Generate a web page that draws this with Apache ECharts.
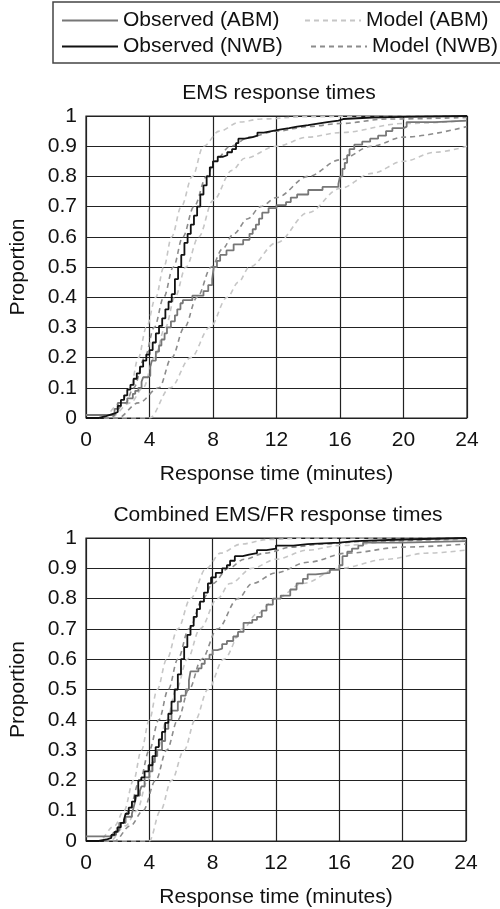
<!DOCTYPE html>
<html>
<head>
<meta charset="utf-8">
<script src="https://cdn.jsdelivr.net/npm/echarts@6/dist/echarts.min.js"></script>
<style>
  html, body { margin: 0; padding: 0; background: #fff; }
  #chart { width: 500px; height: 909px; }
</style>
</head>
<body>
<div id="chart"></div>
<script>
// x ticks / y ticks
const xTicks = [0, 4, 8, 12, 16, 20, 24];
const yTicks = [0, 0.1, 0.2, 0.3, 0.4, 0.5, 0.6, 0.7, 0.8, 0.9, 1];

// ---- EMS response times (top) ----
// observed, step curves
const emsNwbT = [0, 0.8, 1.2, 1.5, 1.8, 2.0, 2.2, 2.4, 2.6, 2.8, 3.0, 3.2, 3.4, 3.6, 3.8, 4.0, 4.2, 4.4, 4.6, 4.8, 5.0, 5.2, 5.4, 5.6, 5.8, 6.0, 6.2, 6.4, 6.6, 6.8, 7.0, 7.2, 7.4, 7.6, 7.8, 8.0, 8.3, 8.6, 8.9, 9.2, 9.45, 9.6, 10.0, 10.5, 10.8, 11.2, 11.7, 12.2, 12.8, 13.3, 14.0, 14.6, 15.2, 15.9, 16.2, 18, 20, 24];
const emsNwbP = [0, 0.005, 0.01, 0.015, 0.02, 0.04, 0.06, 0.075, 0.094, 0.11, 0.13, 0.148, 0.17, 0.19, 0.21, 0.225, 0.25, 0.28, 0.305, 0.33, 0.36, 0.385, 0.41, 0.46, 0.5, 0.54, 0.58, 0.61, 0.64, 0.67, 0.7, 0.74, 0.77, 0.8, 0.83, 0.85, 0.865, 0.87, 0.88, 0.89, 0.91, 0.925, 0.93, 0.935, 0.945, 0.95, 0.955, 0.96, 0.965, 0.97, 0.975, 0.98, 0.985, 0.99, 0.995, 0.997, 1, 1];
const emsAbmT = [0, 1.6, 1.8, 2.0, 2.6, 2.95, 3.1, 3.3, 3.5, 3.6, 3.9, 4.05, 4.15, 4.4, 4.6, 4.75, 4.95, 5.1, 5.35, 5.6, 5.75, 5.95, 6.1, 6.7, 7.4, 7.7, 7.95, 8.05, 8.25, 8.45, 8.85, 9.3, 9.9, 10.3, 10.5, 10.7, 10.9, 11.1, 11.5, 12.0, 12.6, 12.9, 13.3, 14.0, 14.9, 15.9, 16.0, 16.15, 16.3, 16.45, 16.6, 16.9, 17.4, 17.9, 18.4, 18.9, 19.3, 20.0, 20.2, 22, 24];
const emsAbmP = [0.01, 0.01, 0.03, 0.05, 0.065, 0.08, 0.09, 0.1, 0.12, 0.135, 0.14, 0.17, 0.19, 0.22, 0.24, 0.26, 0.28, 0.3, 0.32, 0.34, 0.36, 0.38, 0.39, 0.405, 0.42, 0.44, 0.46, 0.5, 0.52, 0.54, 0.555, 0.575, 0.59, 0.61, 0.625, 0.64, 0.66, 0.68, 0.695, 0.705, 0.715, 0.73, 0.74, 0.755, 0.765, 0.775, 0.8, 0.825, 0.845, 0.87, 0.89, 0.905, 0.915, 0.925, 0.935, 0.95, 0.96, 0.965, 0.98, 0.985, 0.985];
// model curves
const emsModA1T = [0, 1.0, 2.2, 2.8, 3.3, 3.8, 4.4, 4.9, 5.4, 6.0, 6.7, 7.4, 8.4, 9.7, 11, 14, 24];
const emsModA1P = [0, 0, 0.05, 0.1, 0.2, 0.3, 0.4, 0.5, 0.6, 0.7, 0.8, 0.9, 0.95, 0.98, 0.99, 0.998, 1];
const emsModA2T = [0, 1.5, 2.8, 3.6, 4.3, 5.0, 5.6, 6.3, 7.1, 8.0, 9.2, 10.0, 12, 14, 16, 20, 24];
const emsModA2P = [0, 0, 0.05, 0.1, 0.2, 0.3, 0.4, 0.5, 0.6, 0.72, 0.82, 0.86, 0.9, 0.93, 0.945, 0.975, 0.985];
const emsModA3T = [0, 4.0, 5.3, 6.6, 7.8, 8.9, 9.6, 10.3, 12, 14, 16, 18, 20, 22, 24];
const emsModA3P = [0, 0, 0.1, 0.2, 0.3, 0.4, 0.45, 0.5, 0.58, 0.68, 0.76, 0.81, 0.85, 0.88, 0.9];
const emsModN1T = [0, 1.5, 2.5, 3.0, 3.7, 4.3, 4.9, 5.5, 6.1, 6.8, 7.6, 8.1, 9.1, 10.3, 12, 14, 16, 19, 24];
const emsModN1P = [0, 0, 0.05, 0.1, 0.2, 0.3, 0.4, 0.5, 0.6, 0.7, 0.8, 0.85, 0.9, 0.93, 0.95, 0.965, 0.975, 0.99, 0.995];
const emsModN2T = [0, 2.0, 3.3, 4.6, 5.4, 6.2, 7.0, 7.9, 8.6, 9.3, 10.2, 11.0, 12, 14, 16, 18, 20, 24];
const emsModN2P = [0, 0, 0.05, 0.1, 0.2, 0.3, 0.4, 0.5, 0.56, 0.61, 0.66, 0.7, 0.73, 0.8, 0.855, 0.9, 0.93, 0.965];

// ---- Combined EMS/FR response times (bottom) ----
const cmbNwbT = [0, 0.8, 1.3, 1.6, 1.8, 2.0, 2.2, 2.4, 2.5, 2.7, 2.9, 3.1, 3.3, 3.5, 3.7, 3.95, 4.2, 4.4, 4.6, 4.8, 5.0, 5.2, 5.4, 5.6, 5.8, 6.0, 6.2, 6.4, 6.6, 6.8, 7.0, 7.2, 7.45, 7.7, 7.9, 8.2, 8.6, 8.9, 9.1, 9.4, 9.9, 10.3, 10.8, 11.4, 12, 13.1, 14, 16, 17, 20, 24];
const cmbNwbP = [0, 0.005, 0.01, 0.02, 0.03, 0.045, 0.06, 0.07, 0.09, 0.11, 0.13, 0.15, 0.2, 0.21, 0.23, 0.25, 0.28, 0.31, 0.335, 0.36, 0.39, 0.42, 0.46, 0.5, 0.55, 0.6, 0.64, 0.68, 0.71, 0.74, 0.765, 0.79, 0.82, 0.85, 0.87, 0.885, 0.9, 0.91, 0.925, 0.94, 0.945, 0.95, 0.96, 0.965, 0.975, 0.98, 0.985, 0.99, 0.995, 1, 1];
const cmbAbmT = [0, 1.2, 1.5, 1.9, 2.1, 2.5, 2.9, 3.0, 3.1, 3.2, 3.4, 3.5, 3.7, 4.0, 4.2, 4.35, 4.5, 4.8, 5.0, 5.2, 5.4, 5.8, 6.0, 6.3, 6.5, 6.6, 7.1, 7.3, 7.5, 7.8, 8.0, 8.3, 8.6, 8.9, 9.3, 9.6, 9.95, 10.5, 10.8, 11.1, 11.4, 11.8, 12.3, 12.9, 13.3, 13.7, 14.0, 14.5, 15.4, 16.0, 16.2, 16.5, 16.8, 17.2, 17.5, 20, 24];
const cmbAbmP = [0.015, 0.015, 0.02, 0.035, 0.06, 0.08, 0.09, 0.11, 0.13, 0.15, 0.165, 0.18, 0.21, 0.23, 0.26, 0.28, 0.3, 0.33, 0.37, 0.4, 0.43, 0.46, 0.48, 0.5, 0.53, 0.56, 0.57, 0.585, 0.6, 0.615, 0.63, 0.635, 0.65, 0.66, 0.675, 0.69, 0.72, 0.73, 0.74, 0.76, 0.78, 0.8, 0.81, 0.83, 0.85, 0.865, 0.88, 0.885, 0.895, 0.91, 0.94, 0.955, 0.965, 0.975, 0.985, 0.99, 0.99];
const cmbModA1T = [0, 0.8, 1.8, 2.4, 3.0, 3.5, 4.0, 4.5, 5.1, 5.8, 6.6, 7.6, 8.5, 9.8, 11.5, 14, 24];
const cmbModA1P = [0, 0, 0.05, 0.1, 0.2, 0.3, 0.4, 0.5, 0.6, 0.7, 0.8, 0.9, 0.95, 0.98, 0.995, 1, 1];
const cmbModA2T = [0, 1.5, 2.5, 3.2, 3.9, 4.5, 5.1, 5.7, 6.4, 7.2, 8.3, 9.1, 10.5, 12, 14, 16, 20, 24];
const cmbModA2P = [0, 0, 0.05, 0.1, 0.2, 0.3, 0.4, 0.5, 0.6, 0.7, 0.8, 0.85, 0.9, 0.93, 0.96, 0.975, 0.99, 0.995];
const cmbModA3T = [0, 4.0, 4.7, 5.4, 6.2, 6.9, 7.7, 8.7, 9.9, 10.8, 12, 13.7, 16, 19, 21.5, 24];
const cmbModA3P = [0, 0, 0.1, 0.2, 0.3, 0.4, 0.5, 0.6, 0.7, 0.75, 0.8, 0.85, 0.9, 0.93, 0.95, 0.96];
const cmbModN1T = [0, 1.2, 2.2, 2.7, 3.4, 4.0, 4.6, 5.2, 5.8, 6.5, 7.4, 8.0, 9.0, 10, 11.3, 13, 15, 18, 24];
const cmbModN1P = [0, 0, 0.05, 0.1, 0.2, 0.3, 0.4, 0.5, 0.6, 0.7, 0.8, 0.85, 0.9, 0.93, 0.95, 0.97, 0.98, 0.99, 1];
const cmbModN2T = [0, 1.8, 2.8, 3.6, 4.4, 5.1, 5.8, 6.5, 7.3, 8.3, 9.6, 10.5, 12, 14, 16.5, 20, 24];
const cmbModN2P = [0, 0, 0.05, 0.1, 0.2, 0.3, 0.4, 0.5, 0.6, 0.7, 0.8, 0.85, 0.885, 0.92, 0.95, 0.97, 0.98];

const FONT = '"Liberation Sans", Arial, sans-serif';
const FS = 21;
const pairs = (xs, ys) => xs.map((x, i) => [x, ys[i]]);

function obsSeries(name, idx, xs, ys, color) {
    return {
        name, type: 'line', xAxisIndex: idx, yAxisIndex: idx, step: 'end',
        symbol: 'none', data: pairs(xs, ys), z: 5,
        lineStyle: { color, width: 1.8 }, itemStyle: { color }
    };
}
function modelSeries(name, idx, xs, ys, color) {
    return {
        name, type: 'line', xAxisIndex: idx, yAxisIndex: idx,
        smooth: 0.35, smoothMonotone: 'x', symbol: 'none', data: pairs(xs, ys), z: 3,
        lineStyle: { color, width: 1.6, type: [5, 4] }, itemStyle: { color }
    };
}

const LIGHT = '#c6c6c6', DARK = '#8c8c8c', OBS_ABM = '#777777', OBS_NWB = '#111111';

function xAx(idx) {
    return {
        type: 'value', gridIndex: idx, min: 0, max: 24, interval: 4,
        name: 'Response time (minutes)', nameLocation: 'middle', nameGap: 46,
        nameTextStyle: { fontSize: FS, color: '#111', fontFamily: FONT },
        axisLine: { show: false }, axisTick: { show: false },
        axisLabel: { fontSize: FS, color: '#111', fontFamily: FONT, margin: 12 },
        splitLine: { show: true, lineStyle: { color: '#222', width: 1.2 } }
    };
}
function yAx(idx) {
    return {
        type: 'value', gridIndex: idx, min: 0, max: 1, interval: 0.1,
        name: 'Proportion', nameLocation: 'middle', nameGap: 57, nameRotate: 90,
        nameTextStyle: { fontSize: FS, color: '#111', fontFamily: FONT },
        axisLine: { show: false }, axisTick: { show: false },
        axisLabel: { fontSize: FS, color: '#111', fontFamily: FONT, margin: 9 },
        splitLine: { show: true, lineStyle: { color: '#222', width: 1.2 } }
    };
}
function legendAt(name, left, top) {
    return {
        data: [name], left, top, padding: 0, itemWidth: 56, itemHeight: 14,
        selectedMode: false,
        itemStyle: { opacity: 0 },
        textStyle: { fontSize: FS, color: '#111', fontFamily: FONT, lineHeight: 21 }
    };
}

const chart = echarts.init(document.getElementById('chart'));
chart.setOption({
    animation: false,
    backgroundColor: '#fff',
    title: [
        { text: 'EMS response times', left: 274, top: 78, textAlign: 'center',
          textStyle: { fontSize: FS, fontWeight: 'normal', color: '#111', fontFamily: FONT } },
        { text: 'Combined EMS/FR response times', left: 273, top: 500, textAlign: 'center',
          textStyle: { fontSize: FS, fontWeight: 'normal', color: '#111', fontFamily: FONT } }
    ],
    legend: [
        legendAt('Observed (ABM)', 61, 10),
        legendAt('Observed (NWB)', 61, 36),
        legendAt('Model (ABM)', 304, 10),
        legendAt('Model (NWB)', 310, 36)
    ],
    graphic: [{
        type: 'rect', shape: { x: 53, y: 2, width: 470, height: 61 },
        style: { fill: 'none', stroke: '#444', lineWidth: 1.5 }, silent: true
    }],
    grid: [
        { left: 81, right: 33, top: 116, height: 302, show: true, borderColor: '#222', borderWidth: 1.2, backgroundColor: '#fff' },
        { left: 80, right: 34, top: 538, height: 303, show: true, borderColor: '#222', borderWidth: 1.2, backgroundColor: '#fff' }
    ],
    xAxis: [xAx(0), xAx(1)],
    yAxis: [yAx(0), yAx(1)],
    series: [
        modelSeries('Model (ABM)', 0, emsModA1T, emsModA1P, LIGHT),
        modelSeries('Model (ABM)', 0, emsModA2T, emsModA2P, LIGHT),
        modelSeries('Model (ABM)', 0, emsModA3T, emsModA3P, LIGHT),
        modelSeries('Model (NWB)', 0, emsModN1T, emsModN1P, DARK),
        modelSeries('Model (NWB)', 0, emsModN2T, emsModN2P, DARK),
        obsSeries('Observed (ABM)', 0, emsAbmT, emsAbmP, OBS_ABM),
        obsSeries('Observed (NWB)', 0, emsNwbT, emsNwbP, OBS_NWB),
        modelSeries('Model (ABM)', 1, cmbModA1T, cmbModA1P, LIGHT),
        modelSeries('Model (ABM)', 1, cmbModA2T, cmbModA2P, LIGHT),
        modelSeries('Model (ABM)', 1, cmbModA3T, cmbModA3P, LIGHT),
        modelSeries('Model (NWB)', 1, cmbModN1T, cmbModN1P, DARK),
        modelSeries('Model (NWB)', 1, cmbModN2T, cmbModN2P, DARK),
        obsSeries('Observed (ABM)', 1, cmbAbmT, cmbAbmP, OBS_ABM),
        obsSeries('Observed (NWB)', 1, cmbNwbT, cmbNwbP, OBS_NWB)
    ]
});
</script>
</body>
</html>
